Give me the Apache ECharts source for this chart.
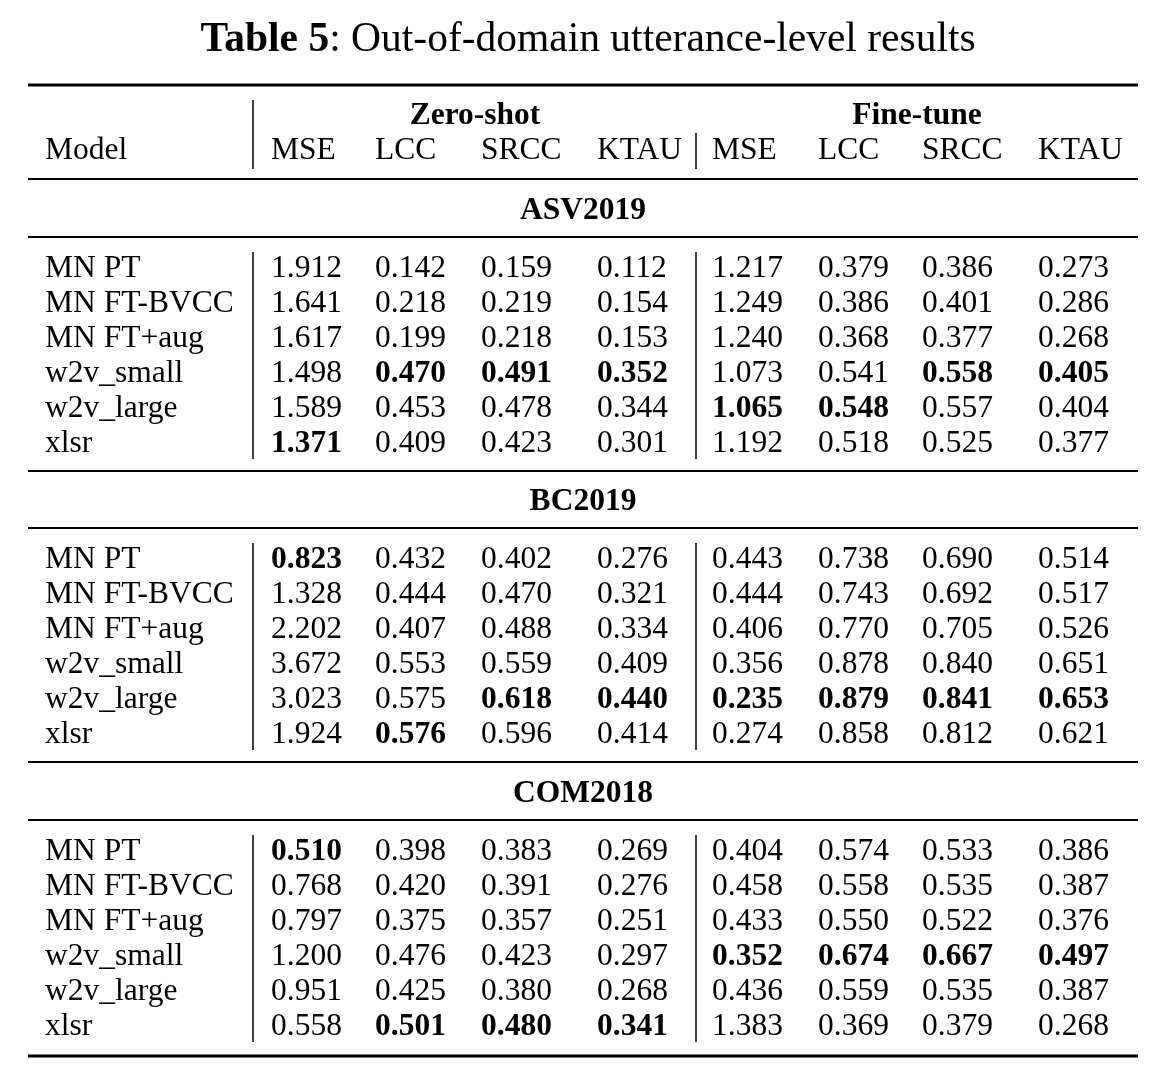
<!DOCTYPE html>
<html>
<head>
<meta charset="utf-8">
<script src="https://cdn.jsdelivr.net/npm/echarts@6/dist/echarts.min.js"></script>
<style>
html,body{margin:0;padding:0;background:#fff;}
#main{width:1162px;height:1074px;}
</style>
</head>
<body>
<div id="main"></div>
<script>
// ---------------- DATA ----------------
const tableTitleBold = 'Table 5';
const tableTitleRest = ': Out-of-domain utterance-level results';
const groupHeaders = ['Zero-shot', 'Fine-tune'];
const metricHeaders = ['MSE', 'LCC', 'SRCC', 'KTAU', 'MSE', 'LCC', 'SRCC', 'KTAU'];
const modelHeader = 'Model';
const models = ['MN PT', 'MN FT-BVCC', 'MN FT+aug', 'w2v_small', 'w2v_large', 'xlsr'];
const datasets = ['ASV2019', 'BC2019', 'COM2018'];

const asv2019 = [
  ['1.912', '0.142', '0.159', '0.112', '1.217', '0.379', '0.386', '0.273'],
  ['1.641', '0.218', '0.219', '0.154', '1.249', '0.386', '0.401', '0.286'],
  ['1.617', '0.199', '0.218', '0.153', '1.240', '0.368', '0.377', '0.268'],
  ['1.498', '0.470', '0.491', '0.352', '1.073', '0.541', '0.558', '0.405'],
  ['1.589', '0.453', '0.478', '0.344', '1.065', '0.548', '0.557', '0.404'],
  ['1.371', '0.409', '0.423', '0.301', '1.192', '0.518', '0.525', '0.377']
];
const bc2019 = [
  ['0.823', '0.432', '0.402', '0.276', '0.443', '0.738', '0.690', '0.514'],
  ['1.328', '0.444', '0.470', '0.321', '0.444', '0.743', '0.692', '0.517'],
  ['2.202', '0.407', '0.488', '0.334', '0.406', '0.770', '0.705', '0.526'],
  ['3.672', '0.553', '0.559', '0.409', '0.356', '0.878', '0.840', '0.651'],
  ['3.023', '0.575', '0.618', '0.440', '0.235', '0.879', '0.841', '0.653'],
  ['1.924', '0.576', '0.596', '0.414', '0.274', '0.858', '0.812', '0.621']
];
const com2018 = [
  ['0.510', '0.398', '0.383', '0.269', '0.404', '0.574', '0.533', '0.386'],
  ['0.768', '0.420', '0.391', '0.276', '0.458', '0.558', '0.535', '0.387'],
  ['0.797', '0.375', '0.357', '0.251', '0.433', '0.550', '0.522', '0.376'],
  ['1.200', '0.476', '0.423', '0.297', '0.352', '0.674', '0.667', '0.497'],
  ['0.951', '0.425', '0.380', '0.268', '0.436', '0.559', '0.535', '0.387'],
  ['0.558', '0.501', '0.480', '0.341', '1.383', '0.369', '0.379', '0.268']
];
// bold cells: [row, col]
const asv2019Bold = [[3,1],[3,2],[3,3],[3,6],[3,7],[4,4],[4,5],[5,0]];
const bc2019Bold = [[0,0],[4,2],[4,3],[4,4],[4,5],[4,6],[4,7],[5,1]];
const com2018Bold = [[0,0],[3,4],[3,5],[3,6],[3,7],[5,1],[5,2],[5,3]];

// ---------------- LAYOUT ----------------
const W = 1162, H = 1074;
const FONT = '"Liberation Serif", "Times New Roman", Times, serif';
const FS = 31.5;
const TY = 3; // vertical text offset
const modelX = 45;
const colX = [271, 375, 481, 597, 712, 818, 922, 1038];
const groupCenterX = [475, 917];
const centerX = 583;
const headRow1Y = 113, headRow2Y = 148;
const sectionLabelY = [208, 499, 791];
const sectionFirstRowY = [266, 557, 849];
const rowStep = 35;
const ruleLeft = 28, ruleRight = 1138;
const thickRules = [85, 1056];
const thinRules = [179, 237, 471, 528, 762, 820];
const vLeftX = 253, vMidX = 696;

const tables = [asv2019, bc2019, com2018];
const bolds = [asv2019Bold, bc2019Bold, com2018Bold];

// ---------------- BUILD TEXT ITEMS ----------------
const texts = []; // {x,y,text,bold,align}
texts.push({x: modelX, y: headRow2Y, text: modelHeader, bold: false, align: 'left'});
groupHeaders.forEach((g, i) => texts.push({x: groupCenterX[i], y: headRow1Y, text: g, bold: true, align: 'center'}));
metricHeaders.forEach((m, i) => texts.push({x: colX[i], y: headRow2Y, text: m, bold: false, align: 'left'}));
datasets.forEach((d, s) => {
  texts.push({x: centerX, y: sectionLabelY[s], text: d, bold: true, align: 'center'});
  const tbl = tables[s];
  const bset = new Set(bolds[s].map(b => b[0] + '_' + b[1]));
  models.forEach((m, r) => {
    const y = sectionFirstRowY[s] + r * rowStep;
    texts.push({x: modelX, y: y, text: m, bold: false, align: 'left'});
    tbl[r].forEach((v, c) => {
      texts.push({x: colX[c], y: y, text: v, bold: bset.has(r + '_' + c), align: 'left'});
    });
  });
});

// lines: [x1,y1,x2,y2,width]
const lines = [];
thickRules.forEach(y => lines.push([ruleLeft, y, ruleRight, y, 3]));
thinRules.forEach(y => lines.push([ruleLeft, y, ruleRight, y, 1.8]));
lines.push([vLeftX, 100, vLeftX, 169, 1.5]);
lines.push([vMidX, 133, vMidX, 169, 1.5]);
sectionFirstRowY.forEach(y0 => {
  const yTop = y0 - 14, yBot = y0 + 5 * rowStep + 18;
  lines.push([vLeftX, yTop, vLeftX, yBot, 1.5]);
  lines.push([vMidX, yTop, vMidX, yBot, 1.5]);
});

const chart = echarts.init(document.getElementById('main'), null, {renderer: 'canvas'});
chart.setOption({
  backgroundColor: '#fff',
  animation: false,
  title: {
    text: '{b|' + tableTitleBold + '}' + tableTitleRest,
    left: 583, top: 14, textAlign: 'center',
    textStyle: {
      fontFamily: FONT, fontSize: 41.5, fontWeight: 'normal', color: '#000',
      rich: { b: {fontFamily: FONT, fontSize: 41.5, fontWeight: 'bold', color: '#000'} }
    }
  },
  grid: {left: 0, right: 0, top: 0, bottom: 0},
  xAxis: {type: 'value', min: 0, max: W, show: false},
  yAxis: {type: 'value', min: 0, max: H, inverse: true, show: false},
  series: [
    {
      type: 'custom',
      coordinateSystem: 'cartesian2d',
      data: lines,
      silent: true,
      renderItem: function (params, api) {
        const p1 = api.coord([api.value(0), api.value(1)]);
        const p2 = api.coord([api.value(2), api.value(3)]);
        return {
          type: 'line',
          shape: {x1: p1[0], y1: p1[1], x2: p2[0], y2: p2[1]},
          style: {stroke: '#000', lineWidth: api.value(4)}
        };
      }
    },
    {
      type: 'custom',
      coordinateSystem: 'cartesian2d',
      data: texts.map(t => [t.x, t.y]),
      silent: true,
      renderItem: function (params, api) {
        const t = texts[params.dataIndex];
        const p = api.coord([api.value(0), api.value(1)]);
        return {
          type: 'text',
          x: p[0], y: p[1] + TY,
          style: {
            text: t.text,
            fontFamily: FONT,
            fontSize: FS,
            fontWeight: t.bold ? 'bold' : 'normal',
            fill: '#000',
            align: t.align,
            verticalAlign: 'middle'
          }
        };
      }
    }
  ]
});
</script>
</body>
</html>
